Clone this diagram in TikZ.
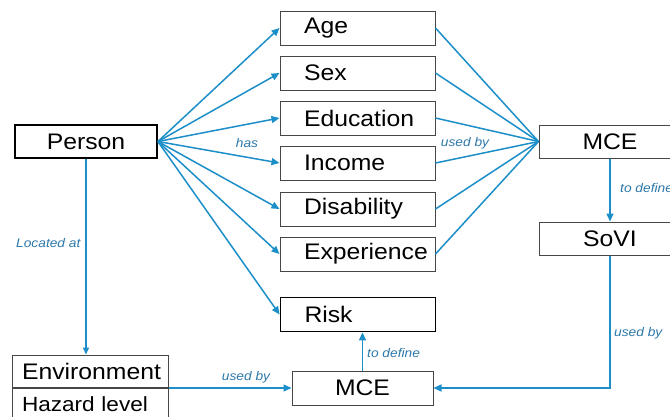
\documentclass[tikz,border=0pt]{standalone}
\usepackage{fontspec}
\setmainfont{Liberation Sans}[FakeStretch=1.1]
\usetikzlibrary{arrows.meta,positioning,calc}
\definecolor{linkblue}{RGB}{28,142,200}
\definecolor{labelblue}{RGB}{45,120,170}
\definecolor{boxgray}{RGB}{70,70,70}

\begin{document}
\begin{tikzpicture}[x=1pt,y=-1pt,
    attr/.style={draw=boxgray,line width=1pt,fill=white,minimum height=34pt,
        text width=107pt,inner xsep=24pt,align=left,font=\fontsize{22.5}{24}\selectfont},
    main/.style={draw=black,line width=1.8pt,fill=white,minimum height=33pt,
        inner sep=0pt,font=\fontsize{22.5}{24}\selectfont},
    calc/.style={draw=boxgray,line width=1pt,fill=white,minimum height=33pt,
        inner sep=0pt,font=\fontsize{22.5}{24}\selectfont},
    link/.style={draw=linkblue,line width=1.5pt},
    arr/.style={link,-{Triangle[length=8pt,width=7pt]}},
    lbl/.style={text=labelblue,font=\fontsize{12.5}{14}\selectfont\itshape,inner sep=1pt}]
    \clip (0,0) rectangle (670,416);
    \useasboundingbox (0,0) rectangle (670,416);

    % Person and its attributes
    \node[main,minimum width=142pt] (person) at (86,141.5) {Person};
    \node[attr] (age)    at (357.5,28)  {Age};
    \node[attr] (sex)    at (357.5,73)  {Sex};
    \node[attr] (edu)    at (357.5,118) {Education};
    \node[attr] (income) at (357.5,163) {Income};
    \node[attr] (disab)  at (357.5,209) {Disability};
    \node[attr] (exper)  at (357.5,254) {Experience};
    \node[attr,draw=black,line width=1.8pt] (risk) at (358,314.5) {Risk};

    % MCE and SoVI on the right
    \node[calc,minimum width=142pt] (mcetop) at (610,141.5) {MCE};
    \node[calc,minimum width=142pt] (sovi)   at (610,238.5) {SoVI};

    % Environment with hazard level
    \node[calc,minimum width=156pt,minimum height=32pt,text width=136pt,align=left,inner xsep=10pt] (env) at (90,371) {Environment};
    \node[calc,minimum width=156pt,minimum height=32pt,text width=136pt,align=left,inner xsep=10pt,anchor=north,
        font=\fontsize{20.5}{22}\selectfont] (hazard) at (env.south) {Hazard level};

    % MCE at the bottom
    \node[calc,minimum width=141pt,minimum height=34pt] (mcebot) at (362.5,388) {MCE};

    % Links from person
    \foreach \t in {age,sex,edu,income,disab,exper,risk}
        \draw[arr] (person.east) -- (\t.west);
    \foreach \t in {age,sex,edu,income,disab,exper}
        \draw[link] (\t.east) -- (mcetop.west);

    \draw[arr] (mcetop.south) -- (sovi.north);
    \draw[arr] (sovi.south) |- (mcebot.east);
    \draw[arr] (mcebot.west -| env.east) -- (mcebot.west);
    \draw[arr] (mcebot.north) -- (mcebot.north |- risk.south);
    \draw[link,-{Triangle[length=7pt,width=6pt]}] (person.south) -- (person.south |- env.north);

    % Labels
    \node[lbl] (has) at (247,143) {has};
    \node[lbl] (usedA) at (465,143) {used by};
    \node[lbl,anchor=west] (defA) at (619,188) {to define};
    \node[lbl,anchor=west] (usedB) at (613,333) {used by};
    \node[lbl] (usedC) at (246,377) {used by};
    \node[lbl,anchor=west] (defB) at (366,353) {to define};
    \node[lbl,anchor=west] (loc) at (15,243) {Located at};
\end{tikzpicture}
\end{document}
